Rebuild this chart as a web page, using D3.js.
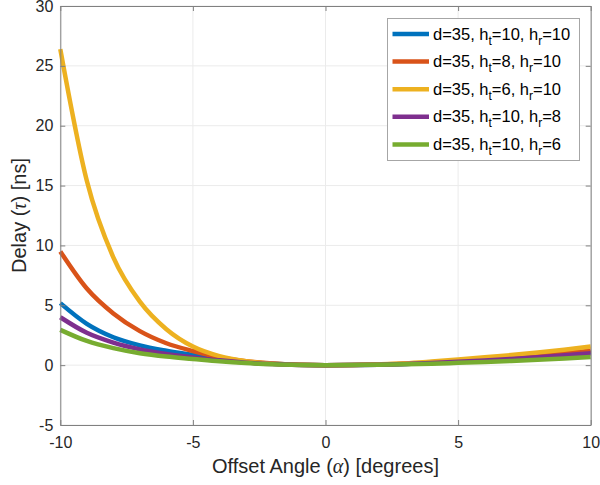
<!DOCTYPE html>
<html>
<head>
<meta charset="utf-8">
<script src="https://cdn.jsdelivr.net/npm/d3@7"></script>
<style>
  body { margin: 0; background: #fff; }
  svg { display: block; font-family: "Liberation Sans", Arial, sans-serif; }
</style>
</head>
<body>
<div id="chart"></div>
<script>
// offset angle samples (degrees)
var alphas = [-10, -9, -8, -7, -6, -5, -4, -3, -2, -1, 0, 1, 2, 3, 4, 5, 6, 7, 8, 9, 10];

// delay values (ns)
var tau_t10_r10 = [5.18, 3.45, 2.33, 1.65, 1.2, 0.84, 0.5, 0.26, 0.11, 0.03, 0, 0.01, 0.04, 0.1, 0.19, 0.3, 0.43, 0.57, 0.73, 0.9, 1.1];
var tau_t8_r10  = [9.5, 6.4, 4.32, 2.84, 1.83, 1.18, 0.65, 0.33, 0.13, 0.03, 0, 0.01, 0.05, 0.12, 0.22, 0.35, 0.5, 0.65, 0.82, 1.0, 1.2];
var tau_t6_r10  = [26.4, 15.4, 9.0, 5.3, 3.0, 1.55, 0.75, 0.33, 0.12, 0.03, 0, 0.02, 0.07, 0.15, 0.3, 0.47, 0.65, 0.84, 1.05, 1.28, 1.55];
var tau_t10_r8  = [4.0, 2.7, 1.88, 1.32, 0.94, 0.65, 0.4, 0.21, 0.09, 0.02, 0, 0.01, 0.04, 0.1, 0.18, 0.28, 0.39, 0.52, 0.66, 0.82, 1.0];
var tau_t10_r6  = [2.95, 2.02, 1.42, 1.0, 0.72, 0.52, 0.32, 0.17, 0.07, 0.02, 0, 0.01, 0.03, 0.07, 0.12, 0.19, 0.26, 0.35, 0.45, 0.56, 0.68];

var seriesNames = [
    { ht: "10", hr: "10" },
    { ht: "8",  hr: "10" },
    { ht: "6",  hr: "10" },
    { ht: "10", hr: "8" },
    { ht: "10", hr: "6" }
];
var seriesValues = [tau_t10_r10, tau_t8_r10, tau_t6_r10, tau_t10_r8, tau_t10_r6];
var colors = ["#0072BD", "#D95319", "#EDB120", "#7E2F8E", "#77AC30"];

var xTicks = [-10, -5, 0, 5, 10];
var yTicks = [-5, 0, 5, 10, 15, 20, 25, 30];

var width = 600, height = 485;
var plotLeft = 60.3, plotRight = 590.7, plotTop = 6, plotBottom = 425;

var svg = d3.select("#chart").append("svg")
    .attr("width", width)
    .attr("height", height);

var x = d3.scaleLinear().domain([-10, 10]).range([plotLeft, plotRight]);
var y = d3.scaleLinear().domain([-5, 30]).range([plotBottom, plotTop]);

// grid
svg.append("g").selectAll("line").data(xTicks).enter().append("line")
    .attr("x1", function(d) { return x(d); })
    .attr("x2", function(d) { return x(d); })
    .attr("y1", plotTop).attr("y2", plotBottom)
    .attr("stroke", "#ebebeb").attr("stroke-width", 1);
svg.append("g").selectAll("line").data(yTicks).enter().append("line")
    .attr("x1", plotLeft).attr("x2", plotRight)
    .attr("y1", function(d) { return y(d); })
    .attr("y2", function(d) { return y(d); })
    .attr("stroke", "#ebebeb").attr("stroke-width", 1);

// curves
var line = d3.line()
    .x(function(d) { return x(d[0]); })
    .y(function(d) { return y(d[1]); })
    .curve(d3.curveMonotoneX);

var plot = svg.append("g");
seriesValues.forEach(function(vals, i) {
    plot.append("path")
        .datum(alphas.map(function(a, j) { return [a, vals[j]]; }))
        .attr("d", line)
        .attr("fill", "none")
        .attr("stroke", colors[i])
        .attr("stroke-width", 4.5)
        .attr("stroke-linejoin", "round");
});

// axes (box with inward ticks on all sides)
var tickLen = 5;
var axisColor = "#808080";
var fmt = function(d) { return String(d); };
var bottomAxis = d3.axisBottom(x).tickValues(xTicks).tickSizeInner(-tickLen).tickSizeOuter(0).tickPadding(12).tickFormat(fmt);
var topAxis = d3.axisTop(x).tickValues(xTicks).tickSizeInner(-tickLen).tickSizeOuter(0).tickFormat("");
var leftAxis = d3.axisLeft(y).tickValues(yTicks).tickSizeInner(-tickLen).tickSizeOuter(0).tickPadding(7).tickFormat(fmt);
var rightAxis = d3.axisRight(y).tickValues(yTicks).tickSizeInner(-tickLen).tickSizeOuter(0).tickFormat("");

function styleAxis(g) {
    g.select(".domain").attr("stroke", axisColor);
    g.selectAll(".tick line").attr("stroke", axisColor);
    g.selectAll(".tick text").attr("fill", "#262626").style("font-size", "16px")
        .style("font-family", "'Liberation Sans', Arial, sans-serif");
}

svg.append("g").attr("transform", "translate(0," + plotBottom + ")").call(bottomAxis).call(styleAxis);
svg.append("g").attr("transform", "translate(0," + plotTop + ")").call(topAxis).call(styleAxis);
svg.append("g").attr("transform", "translate(" + plotLeft + ",0)").call(leftAxis).call(styleAxis);
svg.append("g").attr("transform", "translate(" + plotRight + ",0)").call(rightAxis).call(styleAxis);

// axis labels
var xl = svg.append("text")
    .attr("x", (plotLeft + plotRight) / 2).attr("y", 473)
    .attr("text-anchor", "middle")
    .attr("fill", "#262626")
    .style("font-size", "20px");
xl.append("tspan").text("Offset Angle (");
xl.append("tspan").text("α").style("font-family", "'Liberation Serif', serif").style("font-style", "italic");
xl.append("tspan").text(") [degrees]");

var yl = svg.append("text")
    .attr("transform", "translate(26," + ((plotTop + plotBottom) / 2) + ") rotate(-90)")
    .attr("text-anchor", "middle")
    .attr("fill", "#262626")
    .style("font-size", "20px");
yl.append("tspan").text("Delay (");
yl.append("tspan").text("τ").style("font-family", "'Liberation Serif', serif").style("font-style", "italic");
yl.append("tspan").text(") [ns]");

// legend
var lg = svg.append("g");
lg.append("rect")
    .attr("x", 387.5).attr("y", 18.5)
    .attr("width", 192).attr("height", 142)
    .attr("fill", "#fff")
    .attr("stroke", "#a6a6a6").attr("stroke-width", 1);

seriesNames.forEach(function(s, i) {
    var cy = 34 + i * 27.6;
    lg.append("line")
        .attr("x1", 392.5).attr("x2", 429)
        .attr("y1", cy).attr("y2", cy)
        .attr("stroke", colors[i]).attr("stroke-width", 4.5);
    var t = lg.append("text")
        .attr("x", 433).attr("y", cy + 5.5)
        .attr("fill", "#000")
        .style("font-size", "16.5px");
    t.append("tspan").text("d=35, h");
    t.append("tspan").text("t").attr("dy", 5).style("font-size", "12px");
    t.append("tspan").text("=" + s.ht + ", h").attr("dy", -5);
    t.append("tspan").text("r").attr("dy", 5).style("font-size", "12px");
    t.append("tspan").text("=" + s.hr).attr("dy", -5);
});
</script>
</body>
</html>
